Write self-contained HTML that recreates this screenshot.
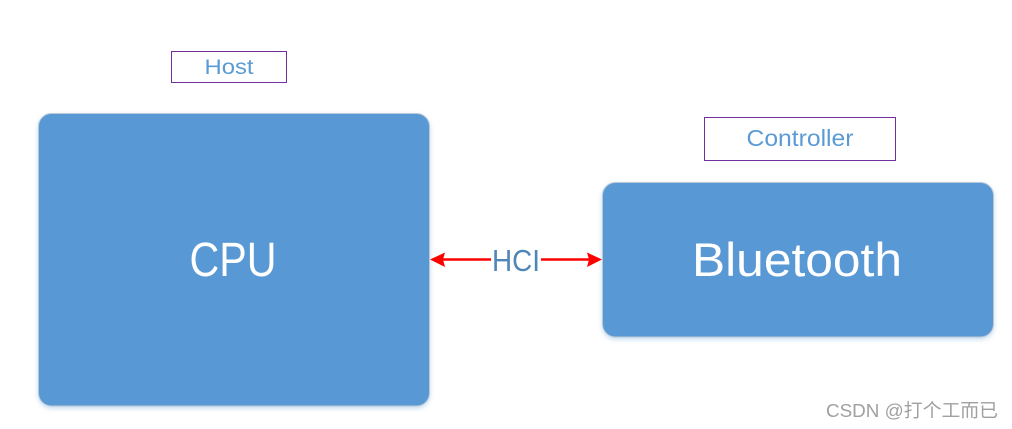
<!DOCTYPE html>
<html>
<head>
<meta charset="utf-8">
<style>
html,body{margin:0;padding:0;background:#fff;width:1012px;height:429px;overflow:hidden}
svg{display:block}
text{font-family:"Liberation Sans","Noto Sans CJK SC",sans-serif}
</style>
</head>
<body>
<svg width="1012" height="429" viewBox="0 0 1012 429" xmlns="http://www.w3.org/2000/svg">
<defs>
<filter id="s" x="-5%" y="-5%" width="110%" height="112%">
<feDropShadow dx="0" dy="2" stdDeviation="2.5" flood-color="#5b9bd5" flood-opacity="0.35"/>
</filter>
</defs>
<rect width="1012" height="429" fill="#fff"/>
<rect x="171.500" y="51.500" width="115" height="31" fill="#fff" stroke="#7030a0" stroke-width="1"/>
<text x="229" y="74" font-size="21" fill="#5b9bd5" text-anchor="middle" textLength="49" lengthAdjust="spacingAndGlyphs">Host</text>
<rect x="704.500" y="117.500" width="191" height="43" fill="#fff" stroke="#7030a0" stroke-width="1"/>
<text x="800" y="146" font-size="23" fill="#5b9bd5" text-anchor="middle" textLength="107" lengthAdjust="spacingAndGlyphs">Controller</text>
<rect x="38.500" y="113.500" width="391" height="292.500" rx="13" fill="#5898d4" stroke="#bcc8d4" stroke-width="1" filter="url(#s)"/>
<text x="233" y="276" font-size="48" fill="#fff" text-anchor="middle" textLength="87" lengthAdjust="spacingAndGlyphs">CPU</text>
<rect x="602.500" y="182.500" width="391" height="154.500" rx="13" fill="#5898d4" stroke="#bcc8d4" stroke-width="1" filter="url(#s)"/>
<text x="797" y="276" font-size="47" fill="#fff" text-anchor="middle" textLength="210" lengthAdjust="spacingAndGlyphs">Bluetooth</text>
<line x1="442" y1="259.500" x2="491" y2="259.500" stroke="#f00" stroke-width="2.500"/>
<line x1="541" y1="259.500" x2="590" y2="259.500" stroke="#f00" stroke-width="2.500"/>
<polygon points="430,259.500 445,252.500 443,259.500 445,267" fill="#f00"/>
<polygon points="602,259.500 587,252.500 589,259.500 587,267" fill="#f00"/>
<text x="516" y="271" font-size="31" fill="#4f86b8" text-anchor="middle" textLength="48" lengthAdjust="spacingAndGlyphs">HCI</text>
<text x="826" y="417" font-size="18.500" fill="#a0a0a0" textLength="172" lengthAdjust="spacingAndGlyphs">CSDN @打个工而已</text>
</svg>
</body>
</html>
